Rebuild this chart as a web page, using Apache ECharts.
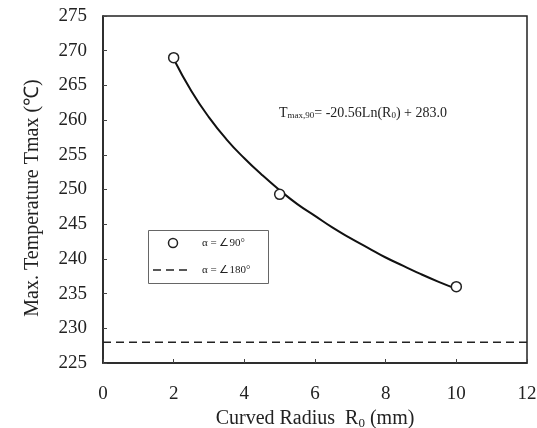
<!DOCTYPE html>
<html><head><meta charset="utf-8">
<script src="https://cdn.jsdelivr.net/npm/echarts@6/dist/echarts.min.js"></script>
<style>html,body{margin:0;padding:0;background:#fff}#c{width:537px;height:428px}</style>
</head><body><div id="c"></div>
<script>
// measured points (alpha = 90°)
const radius90 = [2, 5, 10];
const temp90 = [269.0, 249.3, 236.0];
// fitted curve
const curveR = [2, 2.5, 3, 3.5, 4, 4.5, 5, 5.5, 6, 6.5, 7, 7.5, 8, 8.5, 9, 9.5, 10];
const curveT = [268.8, 264.2, 260.4, 257.2, 254.5, 252.1, 249.9, 247.9, 246.2, 244.5, 243.0, 241.6, 240.2, 239.0, 237.8, 236.7, 235.7];
// alpha = 180° level
const level180R = [0, 12];
const level180T = [228.0, 228.0];
const legendNames = ['α = ∠90°', 'α = ∠180°'];

const font = 'Liberation Serif, Times New Roman, serif';
const ink = '#222';
const chart = echarts.init(document.getElementById('c'));
chart.setOption({
  animation: false,
  grid: {left: 103, right: 10, top: 16, bottom: 65, show: true, borderColor: ink, borderWidth: 1.5,
         containLabel: false, outerBoundsMode: 'none'},
  xAxis: {
    type: 'value', min: 0, max: 12, interval: 2,
    name: 'Curved Radius  {r|R}{s|0}{r| (mm)}', nameLocation: 'middle', nameGap: 44,
    nameTextStyle: {fontFamily: font, fontSize: 20, color: ink,
      rich: {r: {fontFamily: font, fontSize: 20, color: ink}, s: {fontFamily: font, fontSize: 13, color: ink, padding: [9, 0, 0, 0]}}},
    axisLine: {show: true, lineStyle: {color: ink, width: 1.5}},
    axisTick: {inside: true, length: 4, lineStyle: {color: '#444'}},
    axisLabel: {fontFamily: font, fontSize: 19, color: ink, margin: 22},
    splitLine: {show: false}
  },
  yAxis: {
    type: 'value', min: 225, max: 275, interval: 5,
    axisLine: {show: true, lineStyle: {color: ink, width: 1.5}},
    axisTick: {inside: true, length: 4, lineStyle: {color: '#444'}},
    axisLabel: {fontFamily: font, fontSize: 19, color: ink, margin: 16},
    splitLine: {show: false}
  },
  title: {
    text: 'T{s|max,90}= -20.56Ln(R{s|0}) + 283.0', left: 274, top: 101,
    textStyle: {fontFamily: font, fontSize: 14, fontWeight: 'normal', color: ink,
      rich: {s: {fontFamily: font, fontSize: 9, color: ink, padding: [5, 0, 0, 0]}}}
  },
  graphic: [
    {type: 'text', x: 33, y: 198, rotation: Math.PI / 2,
     style: {text: 'Max. Temperature Tmax (℃)', font: '20px ' + font, fill: ink, align: 'center', verticalAlign: 'middle'}},
    {type: 'rect', shape: {x: 148.5, y: 230.5, width: 120, height: 53},
     style: {fill: '#fff', stroke: '#666', lineWidth: 1}, z: 100},
    {type: 'circle', shape: {cx: 173, cy: 243, r: 4.5},
     style: {fill: '#fff', stroke: ink, lineWidth: 1.5}, z: 101},
    {type: 'text', x: 202, y: 243, style: {text: legendNames[0], font: '11px ' + font, fill: ink, verticalAlign: 'middle'}, z: 101},
    {type: 'line', shape: {x1: 153, y1: 270, x2: 192, y2: 270},
     style: {stroke: ink, lineWidth: 1.5, lineDash: [8, 5]}, z: 101},
    {type: 'text', x: 202, y: 270, style: {text: legendNames[1], font: '11px ' + font, fill: ink, verticalAlign: 'middle'}, z: 101}
  ],
  series: [
    {name: 'fit', type: 'line', data: curveR.map((r, i) => [r, curveT[i]]), smooth: true,
     symbol: 'none', lineStyle: {color: '#111', width: 2}, z: 2},
    {name: legendNames[0], type: 'scatter', data: radius90.map((r, i) => [r, temp90[i]]),
     symbol: 'circle', symbolSize: 10, itemStyle: {color: '#fff', borderColor: ink, borderWidth: 1.5, opacity: 1}, z: 3},
    {name: legendNames[1], type: 'line', data: level180R.map((r, i) => [r, level180T[i]]),
     symbol: 'none', lineStyle: {color: ink, width: 1.5, type: [8, 5]}}
  ]
});
</script></body></html>
